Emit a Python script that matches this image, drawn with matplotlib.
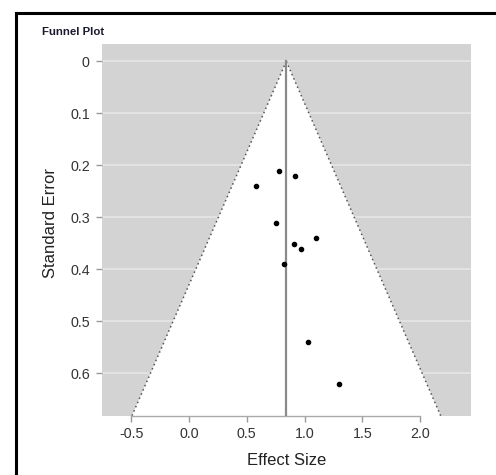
import matplotlib
matplotlib.use("Agg")
import matplotlib.pyplot as plt
from matplotlib.lines import Line2D
import numpy as np

plt.rcParams['font.family'] = ['Liberation Sans', 'DejaVu Sans']

effect_size = [0.78, 0.92, 0.58, 0.75, 1.10, 0.91, 0.97, 0.82, 1.03, 1.30]
std_error = [0.211, 0.221, 0.240, 0.310, 0.340, 0.351, 0.361, 0.390, 0.540, 0.620]
pooled = 0.842
z = 1.96
x_ticks = [-0.5, 0.0, 0.5, 1.0, 1.5, 2.0]
x_tick_labels = ["-0.5", "0.0", "0.5", "1.0", "1.5", "2.0"]
y_ticks = [0, 0.1, 0.2, 0.3, 0.4, 0.5, 0.6]
y_tick_labels = ["0", "0.1", "0.2", "0.3", "0.4", "0.5", "0.6"]

fig = plt.figure(figsize=(4.96, 4.75), dpi=100)
ax = fig.add_axes([0.205, 0.125, 0.744, 0.782])
ax.set_facecolor('#d3d3d3')
xlim = (-0.755, 2.437)
ylim = (0.681, -0.033)
ax.set_xlim(*xlim)
ax.set_ylim(*ylim)

# gridlines
for yt in y_ticks:
    ax.axhline(yt, color='#e6e6e6', lw=1.2, zorder=0.5)

# funnel
se_max = 0.75
poly_x = [pooled, pooled - z * se_max, pooled + z * se_max]
poly_y = [0, se_max, se_max]
ax.fill(poly_x, poly_y, color='white', zorder=1, lw=0)
ax.plot([pooled, pooled - z * se_max], [0, se_max], color='#555555', lw=1.1, ls=(0, (1, 2)), zorder=2)
ax.plot([pooled, pooled + z * se_max], [0, se_max], color='#555555', lw=1.1, ls=(0, (1, 2)), zorder=2)
ax.plot([pooled, pooled], [0, se_max], color='#8a8a8a', lw=1.6, zorder=3)

ax.plot(effect_size, std_error, 'o', color='black', ms=3, zorder=4)

for s in ['top', 'right', 'left']:
    ax.spines[s].set_visible(False)
ax.spines['bottom'].set_color('#aaaaaa')
ax.spines['bottom'].set_bounds(-0.5, 2.0)
ax.spines['bottom'].set_linewidth(1.0)

ax.set_xticks(x_ticks)
ax.set_xticklabels(x_tick_labels)
ax.set_yticks(y_ticks)
ax.set_yticklabels(y_tick_labels)
ax.tick_params(axis='both', colors='#999999', labelcolor='#333333', labelsize=10.3, length=4.5, width=1)
ax.tick_params(axis='y', pad=4)

ax.set_xlabel('Effect Size', fontsize=12, color='#222222')
ax.set_ylabel('Standard Error', fontsize=12, color='#222222')
ax.xaxis.set_label_coords(0.5, -0.101)
ax.yaxis.set_label_coords(-0.118, 0.518)

fig.text(42 / 496, 1 - 32 / 475, 'Funnel Plot', fontsize=8.2, fontweight='bold', color='#1a1a2e', va='center', ha='left')

# border lines (top and left)
fig.add_artist(Line2D([15.5 / 496, 15.5 / 496], [0, 1 - 12.5 / 475], color='black', lw=2.2, transform=fig.transFigure))
fig.add_artist(Line2D([15.5 / 496, 1], [1 - 12.5 / 475, 1 - 12.5 / 475], color='black', lw=2.2, transform=fig.transFigure))

fig.savefig('out.png', dpi=100)
